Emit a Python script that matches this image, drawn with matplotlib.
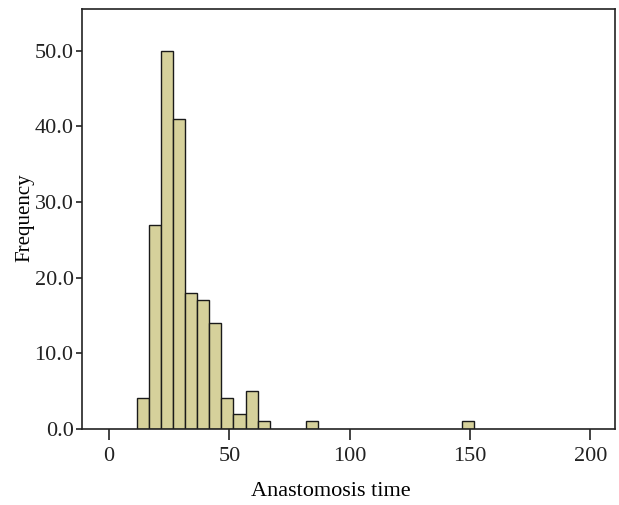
import matplotlib
matplotlib.use("Agg")
import matplotlib.pyplot as plt
from matplotlib.ticker import FormatStrFormatter

# histogram bins (left edge) and counts, width 5
bin_left = [11.7, 16.7, 21.7, 26.7, 31.7, 36.7, 41.7, 46.7, 51.7, 56.7, 61.7, 81.7, 146.7]
counts = [4, 27, 50, 41, 18, 17, 14, 4, 2, 5, 1, 1, 1]
bin_width = 5
x_ticks = [0, 50, 100, 150, 200]
y_ticks = [0, 10, 20, 30, 40, 50]

plt.rcParams['font.family'] = ['Liberation Serif', 'DejaVu Serif']

fig = plt.figure(figsize=(6.19, 5.05), dpi=100)
ax = fig.add_axes([82.3/619, 1-428.7/505, (615-82.3)/619, (428.7-9.3)/505])

ax.bar(bin_left, counts, width=bin_width, align='edge',
       color='#d6d19b', edgecolor='#1a1a1a', linewidth=1.0)

ax.set_xlim(-11.1, 210.2)
ax.set_ylim(0, 55.5)
ax.set_xticks(x_ticks)
ax.set_yticks(y_ticks)
ax.yaxis.set_major_formatter(FormatStrFormatter('%.1f'))
ax.tick_params(direction='out', width=1.2, labelsize=16, colors='#222222')
ax.tick_params(axis='x', length=8, pad=5)
ax.tick_params(axis='y', length=4.5, pad=1.8)
for s in ax.spines.values():
    s.set_linewidth(1.2)
    s.set_color('#222222')

ax.set_xlabel('Anastomosis time', fontsize=16)
ax.xaxis.set_label_coords(0.467, -0.127)
ax.set_ylabel('Frequency', fontsize=15)
ax.yaxis.set_label_coords(-0.0907, 0.502)

fig.savefig('out.png', dpi=100)
